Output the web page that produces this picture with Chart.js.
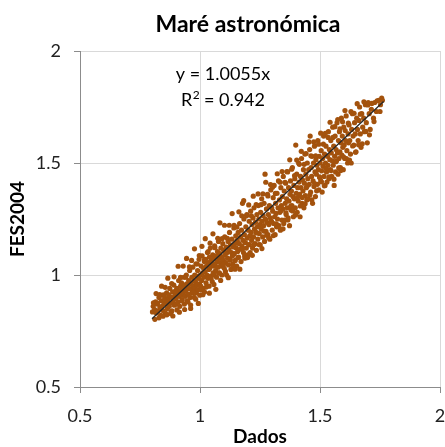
<!DOCTYPE html>
<html><head><meta charset="utf-8">
<script src="https://cdn.jsdelivr.net/npm/chart.js@4/dist/chart.umd.min.js"></script>
<style>html,body{margin:0;padding:0;background:#fff}</style>
</head><body>
<canvas id="c" width="445" height="447"></canvas>
<script>
// Maré astronómica: observed (Dados) vs FES2004 model, [dados, fes2004] pairs
const pontos = [
[0.802,0.835],[0.805,0.86],[0.811,0.845],[0.815,0.88],[0.818,0.83],
[0.822,0.87],[0.826,0.84],[0.829,0.9],[0.833,0.855],[0.836,0.82],[0.838,0.885],
[0.841,0.86],[0.844,0.91],[0.847,0.84],[0.85,0.875],[0.853,0.895],[0.856,0.83],[0.859,0.87],
[0.861,0.92],[0.864,0.85],[0.866,0.885],[0.869,0.9],[0.872,0.86],[0.874,0.94],[0.877,0.875],[0.879,0.835],
[0.881,0.9],[0.883,0.84],[0.886,0.925],[0.888,0.88],[0.891,0.955],[0.893,0.865],[0.896,0.91],[0.899,0.895],
[0.901,0.87],[0.903,0.94],[0.906,0.92],[0.908,0.88],[0.911,0.975],[0.913,0.905],[0.916,0.86],[0.918,0.93],[0.919,0.95],
[0.921,0.91],[0.923,0.965],[0.926,0.89],[0.928,0.94],[0.931,0.92],[0.933,0.99],[0.935,0.87],[0.937,0.955],[0.939,0.905],
[0.941,0.93],[0.943,1.0],[0.945,0.96],[0.947,0.885],[0.949,0.945],[0.951,0.915],[0.953,0.975],[0.955,0.94],[0.957,1.02],[0.959,0.9],
[0.961,0.866],[0.962,0.96],[0.964,0.935],[0.966,0.99],[0.968,0.92],[0.97,1.035],[0.972,0.95],[0.974,0.975],[0.976,0.9],[0.978,1.0],[0.979,0.94],
[0.981,0.97],[0.983,1.05],[0.985,0.92],[0.986,0.995],[0.988,0.955],[0.99,1.02],[0.992,0.935],[0.994,0.985],[0.996,1.07],[0.998,0.96],[0.999,0.91],
[1.001,1.0],[1.003,0.95],[1.005,1.04],[1.007,0.975],[1.009,1.085],[1.011,1.01],[1.013,0.94],[1.015,1.03],[1.016,0.99],[1.018,1.06],[1.019,0.924],
[1.021,1.015],[1.023,1.07],[1.025,0.965],[1.027,1.04],[1.029,1.0],[1.031,1.1],[1.033,0.985],[1.035,1.055],[1.037,1.025],[1.038,0.95],[1.039,1.08],
[1.041,1.03],[1.043,1.12],[1.045,0.995],[1.047,1.065],[1.049,1.045],[1.051,0.97],[1.053,1.09],[1.055,1.01],[1.057,1.075],[1.058,1.04],[1.059,1.0],
[1.061,1.13],[1.063,1.05],[1.065,1.02],[1.067,1.085],[1.069,0.99],[1.071,1.06],[1.073,1.105],[1.075,1.035],[1.077,1.15],[1.079,1.075],
[1.081,1.01],[1.083,1.095],[1.085,1.055],[1.087,1.12],[1.089,1.04],[1.091,1.0],[1.093,1.08],[1.095,1.14],[1.097,1.065],[1.099,1.11],
[1.101,1.03],[1.103,1.17],[1.105,1.09],[1.107,1.055],[1.109,1.125],[1.111,1.0],[1.113,1.1],[1.115,1.075],[1.117,1.15],[1.119,1.045],
[1.121,1.115],[1.123,1.19],[1.125,1.07],[1.127,1.135],[1.129,1.025],[1.131,1.1],[1.133,1.16],[1.135,1.085],[1.137,1.05],[1.139,1.125],
[1.141,1.21],[1.143,1.095],[1.145,1.14],[1.147,1.065],[1.149,1.175],[1.151,1.12],[1.153,1.04],[1.155,1.155],[1.157,1.105],[1.159,1.19],
[1.161,1.08],[1.163,1.14],[1.165,1.23],[1.167,1.115],[1.169,1.17],[1.171,1.06],[1.173,1.2],[1.175,1.13],[1.177,1.32],[1.179,1.155],
[1.181,1.1],[1.183,1.25],[1.185,1.18],[1.187,1.075],[1.189,1.145],[1.191,1.215],[1.193,1.12],[1.195,1.27],[1.197,1.165],[1.199,1.09],
[1.201,1.2],[1.203,1.135],[1.205,1.24],[1.207,1.175],[1.209,1.1],[1.211,1.285],[1.213,1.19],[1.215,1.155],[1.217,1.225],[1.219,1.12],
[1.221,1.255],[1.223,1.17],[1.225,1.3],[1.227,1.205],[1.229,1.14],[1.231,1.235],[1.233,1.19],[1.235,1.11],[1.237,1.27],[1.239,1.215],
[1.241,1.16],[1.243,1.31],[1.245,1.25],[1.247,1.185],[1.249,1.225],[1.251,1.135],[1.253,1.28],[1.255,1.205],[1.257,1.34],[1.259,1.24],
[1.261,1.17],[1.263,1.265],[1.265,1.22],[1.267,1.32],[1.269,1.15],[1.271,1.45],[1.273,1.25],[1.275,1.195],[1.277,1.295],[1.279,1.235],
[1.281,1.36],[1.283,1.18],[1.285,1.27],[1.287,1.225],[1.289,1.31],[1.291,1.16],[1.293,1.255],[1.295,1.38],[1.297,1.24],[1.299,1.3],
[1.301,1.2],[1.303,1.285],[1.305,1.345],[1.307,1.23],[1.309,1.4],[1.311,1.26],[1.313,1.18],[1.315,1.32],[1.317,1.275],[1.319,1.215],
[1.321,1.365],[1.323,1.25],[1.325,1.3],[1.327,1.42],[1.329,1.22],[1.331,1.335],[1.333,1.28],[1.335,1.2],[1.337,1.39],[1.339,1.31],
[1.341,1.245],[1.343,1.35],[1.345,1.295],[1.347,1.44],[1.349,1.23],[1.351,1.375],[1.353,1.245],[1.355,1.32],[1.357,1.41],[1.359,1.27],
[1.361,1.34],[1.363,1.3],[1.365,1.46],[1.367,1.255],[1.369,1.39],[1.371,1.33],[1.373,1.22],[1.375,1.36],[1.377,1.42],[1.379,1.29],
[1.381,1.375],[1.383,1.31],[1.385,1.48],[1.387,1.35],[1.389,1.26],[1.391,1.4],[1.393,1.34],[1.395,1.43],[1.397,1.3],[1.399,1.58],
[1.401,1.365],[1.403,1.45],[1.405,1.28],[1.407,1.39],[1.409,1.33],[1.411,1.5],[1.413,1.415],[1.415,1.36],[1.417,1.26],[1.419,1.44],
[1.421,1.39],[1.423,1.52],[1.425,1.32],[1.427,1.425],[1.429,1.375],[1.431,1.47],[1.433,1.3],[1.435,1.41],[1.437,1.54],[1.439,1.355],
[1.441,1.45],[1.443,1.39],[1.445,1.335],[1.447,1.5],[1.449,1.43],[1.451,1.34],[1.453,1.47],[1.455,1.405],[1.457,1.56],[1.459,1.62],
[1.461,1.37],[1.463,1.48],[1.465,1.44],[1.467,1.53],[1.469,1.32],[1.471,1.42],[1.473,1.5],[1.475,1.395],[1.477,1.575],[1.479,1.46],
[1.481,1.35],[1.483,1.515],[1.485,1.45],[1.487,1.49],[1.489,1.405],[1.491,1.6],[1.493,1.47],[1.495,1.38],[1.497,1.53],[1.499,1.435],
[1.501,1.5],[1.503,1.42],[1.505,1.555],[1.507,1.465],[1.509,1.37],[1.511,1.52],[1.513,1.485],[1.515,1.62],[1.517,1.44],[1.519,1.54],
[1.521,1.4],[1.523,1.5],[1.525,1.575],[1.527,1.46],[1.529,1.415],[1.531,1.53],[1.533,1.49],[1.535,1.64],[1.537,1.43],[1.539,1.56],
[1.541,1.515],[1.543,1.47],[1.545,1.6],[1.547,1.545],[1.549,1.44],[1.551,1.51],[1.553,1.66],[1.555,1.49],[1.557,1.575],[1.559,1.4],
[1.561,1.53],[1.563,1.62],[1.565,1.46],[1.567,1.56],[1.569,1.51],[1.571,1.68],[1.573,1.545],[1.575,1.45],[1.577,1.6],[1.579,1.52],
[1.581,1.64],[1.583,1.55],[1.585,1.48],[1.587,1.59],[1.589,1.7],[1.591,1.535],[1.593,1.62],[1.595,1.57],[1.597,1.47],[1.599,1.66],
[1.601,1.58],[1.603,1.52],[1.605,1.645],[1.607,1.6],[1.609,1.71],[1.612,1.555],[1.615,1.5],[1.617,1.63],[1.619,1.59],
[1.621,1.67],[1.624,1.6],[1.627,1.54],[1.63,1.5],[1.632,1.65],[1.635,1.72],[1.638,1.62],
[1.641,1.58],[1.644,1.68],[1.647,1.63],[1.65,1.55],[1.653,1.7],[1.656,1.65],[1.659,1.6],
[1.662,1.69],[1.665,1.75],[1.668,1.63],[1.671,1.57],[1.674,1.72],[1.678,1.66],
[1.682,1.7],[1.685,1.64],[1.689,1.76],[1.693,1.68],[1.697,1.59],
[1.701,1.77],[1.705,1.72],[1.709,1.65],[1.714,1.74],
[1.723,1.7],[1.728,1.77],[1.735,1.73],
[1.745,1.78],[1.752,1.76],[1.757,1.79],
// outer part of the cloud
[0.806,0.876],[0.812,0.802],[0.817,0.917],[0.823,0.873],[0.829,0.809],[0.832,0.912],[0.84,0.95],[0.846,0.816],
[0.851,0.911],[0.855,0.945],[0.862,0.822],[0.866,0.986],[0.871,0.911],[0.878,0.828],[0.882,0.962],[0.887,0.817],
[0.892,0.992],[0.898,0.928],[0.904,0.844],[0.909,1.039],[0.914,0.834],[0.919,0.989],[0.924,0.884],[0.93,1.04],
[0.936,0.846],[0.94,0.99],[0.944,1.074],[0.95,0.88],[0.956,1.036],[0.961,0.851],[0.965,1.065],[0.973,0.923],
[0.977,1.117],[0.982,0.892],[0.989,1.049],[0.993,0.873],[0.997,1.087],[1.004,0.934],[1.008,1.128],[1.012,0.912],
[1.019,1.069],[1.022,1.162],[1.026,0.946],[1.034,1.104],[1.039,0.919],[1.042,1.142],[1.046,0.986],[1.054,1.184],
[1.058,0.958],[1.062,1.122],[1.066,0.936],[1.074,1.164],[1.078,1.008],[1.083,1.233],[1.086,0.976],[1.092,1.162],
[1.098,1.048],[1.102,1.222],[1.106,1.016],[1.114,1.164],[1.118,0.988],[1.122,1.222],[1.126,1.066],[1.134,1.274],
[1.138,1.038],[1.142,1.222],[1.146,1.026],[1.154,1.214],[1.158,1.078],[1.162,1.282],[1.166,1.026],[1.174,1.264],
[1.178,1.118],[1.182,1.332],[1.186,1.086],[1.194,1.264],[1.198,1.078],[1.203,1.313],[1.206,1.136],[1.214,1.264],
[1.218,1.088],[1.222,1.352],[1.226,1.136],[1.234,1.314],[1.238,1.188],[1.242,1.362],[1.246,1.136],[1.254,1.314],
[1.258,1.118],[1.262,1.362],[1.266,1.196],[1.274,1.414],[1.278,1.178],[1.283,1.353],[1.286,1.166],[1.294,1.404],
[1.298,1.238],[1.302,1.392],[1.306,1.176],[1.314,1.364],[1.318,1.228],[1.322,1.452],[1.326,1.216],[1.334,1.414],
[1.338,1.288],[1.342,1.462],[1.346,1.206],[1.354,1.414],[1.358,1.278],[1.362,1.462],[1.366,1.246],[1.374,1.514],
[1.378,1.308],[1.382,1.472],[1.386,1.286],[1.394,1.444],[1.398,1.268],[1.403,1.513],[1.406,1.346],[1.414,1.494],
[1.418,1.308],[1.422,1.552],[1.426,1.346],[1.434,1.494],[1.438,1.318],[1.442,1.542],[1.446,1.396],[1.454,1.594],
[1.458,1.358],[1.462,1.532],[1.466,1.336],[1.474,1.594],[1.478,1.408],[1.482,1.532],[1.486,1.376],[1.494,1.584],
[1.498,1.438],[1.503,1.633],[1.506,1.416],[1.514,1.584],[1.518,1.398],[1.522,1.632],[1.526,1.476],[1.534,1.614],
[1.538,1.438],[1.542,1.682],[1.546,1.466],[1.554,1.614],[1.558,1.428],[1.562,1.662],[1.566,1.506],[1.574,1.694],
[1.578,1.478],[1.583,1.653],[1.586,1.466],[1.594,1.684],[1.598,1.528],[1.604,1.734],[1.61,1.52],[1.618,1.678],
[1.623,1.513],[1.629,1.729],[1.636,1.576],[1.642,1.722],[1.648,1.548],[1.655,1.765],[1.661,1.581],[1.668,1.718],
[1.676,1.586],[1.683,1.773],[1.691,1.641],[1.699,1.759],[1.706,1.626],[1.716,1.766],[1.725,1.685],[1.738,1.778],
[1.75,1.73],[1.76,1.78]
];

// linear trend through the origin
const declive = 1.0055;
const r2 = 0.942;
const linhaX = [0.8, 1.765];

const eixoTicks = [0.5, 1, 1.5, 2];
const titulo = 'Maré astronómica';
const tituloX = 'Dados';
const tituloY = 'FES2004';

const FONTE = 'Lato, "Open Sans", sans-serif';

const dispersao = pontos.map(p => ({x: p[0], y: p[1]}));
const tendencia = linhaX.map(x => ({x: x, y: declive * x}));

const textos = {
  id: 'textos',
  afterDraw(chart) {
    const ctx = chart.ctx;
    ctx.save();
    ctx.fillStyle = '#000';
    ctx.textAlign = 'center';
    ctx.textBaseline = 'alphabetic';
    ctx.font = 'bold 23px ' + FONTE;
    ctx.fillText(titulo, 248, 32);
    ctx.font = '18px ' + FONTE;
    ctx.fillText('y = ' + declive.toFixed(4) + 'x', 223, 80);
    // R² with a raised 2
    const a = 'R', b = '2', c = ' = ' + r2.toFixed(3);
    const wa = ctx.measureText(a).width;
    const wc = ctx.measureText(c).width;
    ctx.font = '12px ' + FONTE;
    const wb = ctx.measureText(b).width;
    const x0 = 223 - (wa + wb + wc) / 2;
    ctx.textAlign = 'left';
    ctx.font = '18px ' + FONTE;
    ctx.fillText(a, x0, 106);
    ctx.font = '12px ' + FONTE;
    ctx.fillText(b, x0 + wa + 0.5, 99);
    ctx.font = '18px ' + FONTE;
    ctx.fillText(c, x0 + wa + wb, 106);
    ctx.restore();
  }
};

function eixo(texto, lado) {
  return {
    type: 'linear',
    min: eixoTicks[0],
    max: eixoTicks[eixoTicks.length - 1],
    afterBuildTicks(s) { s.ticks = eixoTicks.map(v => ({value: v})); },
    ticks: {
      color: '#222',
      font: {family: FONTE, size: 18},
      padding: lado === 'x' ? 12 : 13,
      callback: v => String(v)
    },
    grid: {color: '#d9d9d9', tickColor: '#8c8c8c', tickLength: 6, lineWidth: 1},
    border: {color: '#8c8c8c', width: 1},
    title: {display: true, text: texto, color: '#000',
            font: {family: FONTE, size: 19, weight: 'bold'},
            padding: lado === 'x' ? {top: 0, bottom: -1} : {top: 6, bottom: 0}},
    afterFit(s) {
      if (lado === 'x') { s.height = 60; s.paddingRight = 0; s.paddingLeft = 0; }
      else { s.width = 80; s.paddingTop = 0; s.paddingBottom = 0; }
    }
  };
}

new Chart(document.getElementById('c'), {
  type: 'scatter',
  data: {
    datasets: [
      {
        data: dispersao,
        backgroundColor: '#a3520d',
        borderColor: '#a3520d',
        borderWidth: 0,
        pointRadius: 2.6,
        pointHoverRadius: 2.6,
        order: 2
      },
      {
        type: 'line',
        data: tendencia,
        borderColor: '#262626',
        borderWidth: 1.3,
        pointRadius: 0,
        fill: false,
        order: 1
      }
    ]
  },
  options: {
    responsive: false,
    animation: false,
    devicePixelRatio: 1,
    layout: {padding: {top: 51, right: 5, left: 0, bottom: 0}},
    plugins: {legend: {display: false}, tooltip: {enabled: false}, title: {display: false}},
    scales: {x: eixo(tituloX, 'x'), y: eixo(tituloY, 'y')}
  },
  plugins: [textos]
});
</script>
</body></html>
